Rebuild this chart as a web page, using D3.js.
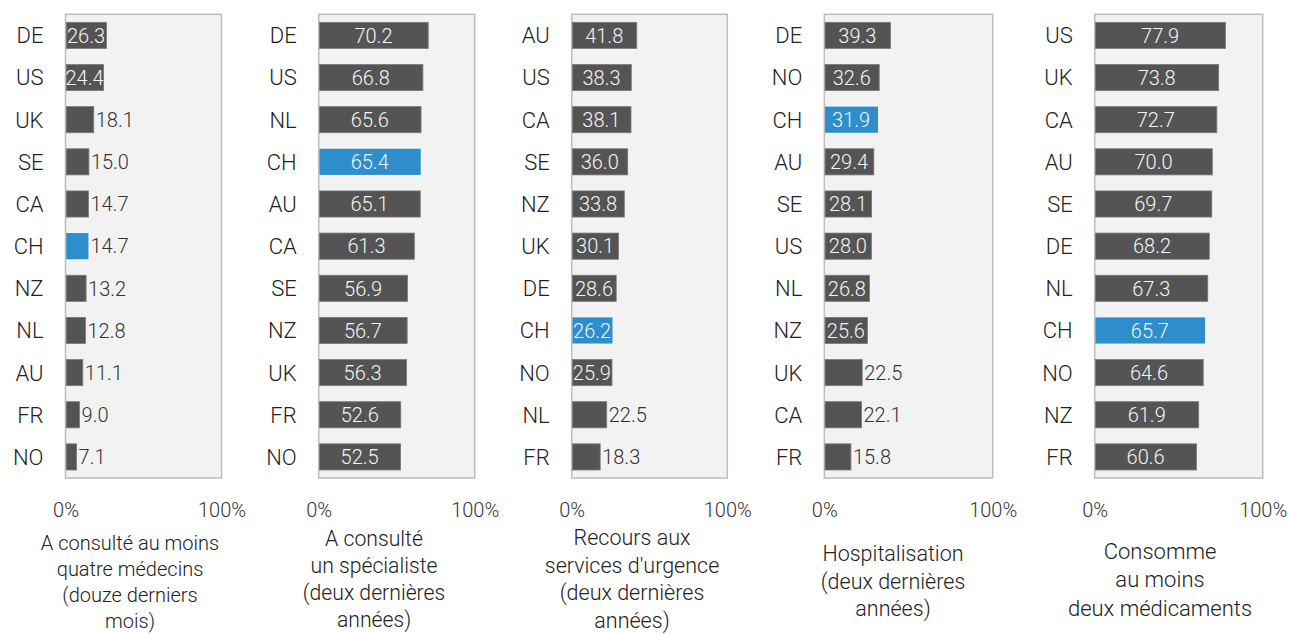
<!DOCTYPE html>
<html>
<head>
<meta charset="utf-8">
<script src="https://cdn.jsdelivr.net/npm/d3@7"></script>
<style>
  body { margin: 0; background: #fff; }
  svg { display: block; font-family: Roboto, "Noto Sans", sans-serif; font-weight: 300; }
</style>
</head>
<body>
<svg id="chart" width="1290" height="634"></svg>
<script>
// Country codes and shares (%) per indicator, sorted descending
const countriesDoctors = ["DE", "US", "UK", "SE", "CA", "CH", "NZ", "NL", "AU", "FR", "NO"];
const valuesDoctors    = [26.3, 24.4, 18.1, 15.0, 14.7, 14.7, 13.2, 12.8, 11.1, 9.0, 7.1];

const countriesSpecialist = ["DE", "US", "NL", "CH", "AU", "CA", "SE", "NZ", "UK", "FR", "NO"];
const valuesSpecialist    = [70.2, 66.8, 65.6, 65.4, 65.1, 61.3, 56.9, 56.7, 56.3, 52.6, 52.5];

const countriesEmergency = ["AU", "US", "CA", "SE", "NZ", "UK", "DE", "CH", "NO", "NL", "FR"];
const valuesEmergency    = [41.8, 38.3, 38.1, 36.0, 33.8, 30.1, 28.6, 26.2, 25.9, 22.5, 18.3];

const countriesHospital = ["DE", "NO", "CH", "AU", "SE", "US", "NL", "NZ", "UK", "CA", "FR"];
const valuesHospital    = [39.3, 32.6, 31.9, 29.4, 28.1, 28.0, 26.8, 25.6, 22.5, 22.1, 15.8];

const countriesMedication = ["US", "UK", "CA", "AU", "SE", "DE", "NL", "CH", "NO", "NZ", "FR"];
const valuesMedication    = [77.9, 73.8, 72.7, 70.0, 69.7, 68.2, 67.3, 65.7, 64.6, 61.9, 60.6];

const titleDoctors     = ["A consulté au moins", "quatre médecins", "(douze derniers", "mois)"];
const titleSpecialist  = ["A consulté", "un spécialiste", "(deux dernières", "années)"];
const titleEmergency   = ["Recours aux", "services d'urgence", "(deux dernières", "années)"];
const titleHospital    = ["Hospitalisation", "(deux dernières", "années)"];
const titleMedication  = ["Consomme", "au moins", "deux médicaments"];

const tickValues = [0, 100];
const highlightCountry = "CH";

// Panel geometry (plot box edges, title anchor, title font size / line height)
const panels = [
  { countries: countriesDoctors,    values: valuesDoctors,    title: titleDoctors,    x0: 65.5,   x1: 221.5,  tx: 130,  ty: 549.5, fs: 20,   lh: 26 },
  { countries: countriesSpecialist, values: valuesSpecialist, title: titleSpecialist, x0: 318.7,  x1: 474.7,  tx: 374,  ty: 546,   fs: 21.2, lh: 27 },
  { countries: countriesEmergency,  values: valuesEmergency,  title: titleEmergency,  x0: 571.7,  x1: 727.3,  tx: 632,  ty: 545,   fs: 21.5, lh: 27.5 },
  { countries: countriesHospital,   values: valuesHospital,   title: titleHospital,   x0: 824.3,  x1: 992.7,  tx: 893,  ty: 561,   fs: 21.5, lh: 27.5 },
  { countries: countriesMedication, values: valuesMedication, title: titleMedication, x0: 1094.7, x1: 1262.7, tx: 1160, ty: 558.5, fs: 22,   lh: 28.7 }
];

const plotTop = 14.3, plotBottom = 478;
const barColor = "#545454", highlightColor = "#2e8dcb";
const font = "Roboto, 'Noto Sans', sans-serif";

const svg = d3.select("#chart");

panels.forEach(p => {
  const g = svg.append("g");
  const data = p.countries.map((c, i) => ({ country: c, value: p.values[i] }));

  const x = d3.scaleLinear().domain([0, 100]).range([p.x0, p.x1]);
  const y = d3.scaleBand().domain(p.countries).range([plotTop, plotBottom])
    .paddingInner(0.38).paddingOuter(0.19);

  // plot area
  g.append("rect")
    .attr("x", x(0)).attr("y", plotTop)
    .attr("width", x(100) - x(0)).attr("height", plotBottom - plotTop)
    .attr("fill", "#f2f2f2").attr("stroke", "#bdbdbd").attr("stroke-width", 1.5);

  // bars
  g.selectAll("rect.bar").data(data).join("rect")
    .attr("class", "bar")
    .attr("x", x(0) + 0.75)
    .attr("y", d => y(d.country))
    .attr("width", d => x(d.value) - x(0) - 0.75)
    .attr("height", y.bandwidth())
    .attr("fill", d => d.country === highlightCountry ? highlightColor : barColor)
    .attr("stroke", d => d.country === highlightCountry ? "none" : "#7a7a7a")
    .attr("stroke-width", 0.8);

  // value labels: inside (centred) for long bars, outside otherwise
  g.selectAll("text.val").data(data).join("text")
    .attr("class", "val")
    .attr("x", d => d.value > 23 ? (x(0) + x(d.value)) / 2 : x(d.value) + 2)
    .attr("y", d => y(d.country) + y.bandwidth() / 2)
    .attr("dy", "0.36em")
    .attr("text-anchor", d => d.value > 23 ? "middle" : "start")
    .attr("fill", d => d.value > 23 ? "#f4f4f4" : "#333")
    .style("font-size", "20px")
    .text(d => d.value.toFixed(1));

  // country axis
  const yAxis = g.append("g")
    .attr("transform", `translate(${x(0)},0)`)
    .call(d3.axisLeft(y).tickSize(0).tickPadding(22));
  yAxis.select(".domain").remove();
  yAxis.selectAll("text")
    .attr("fill", "#222").attr("dy", "0.36em")
    .style("font-size", "22px").style("font-family", font).style("font-weight", 300);

  // percentage axis
  const xAxis = g.append("g")
    .attr("transform", `translate(0,517)`)
    .call(d3.axisBottom(x).tickValues(tickValues).tickFormat(d => d + "%").tickSize(0).tickPadding(0));
  xAxis.select(".domain").remove();
  xAxis.selectAll("text")
    .attr("y", 0).attr("dy", 0).attr("fill", "#333")
    .style("font-size", "20px").style("font-family", font).style("font-weight", 300);

  // indicator title
  const t = g.append("text")
    .attr("text-anchor", "middle").attr("fill", "#222")
    .style("font-size", p.fs + "px");
  p.title.forEach((line, i) => {
    t.append("tspan").attr("x", p.tx).attr("y", p.ty + i * p.lh).text(line);
  });
});
</script>
</body>
</html>
